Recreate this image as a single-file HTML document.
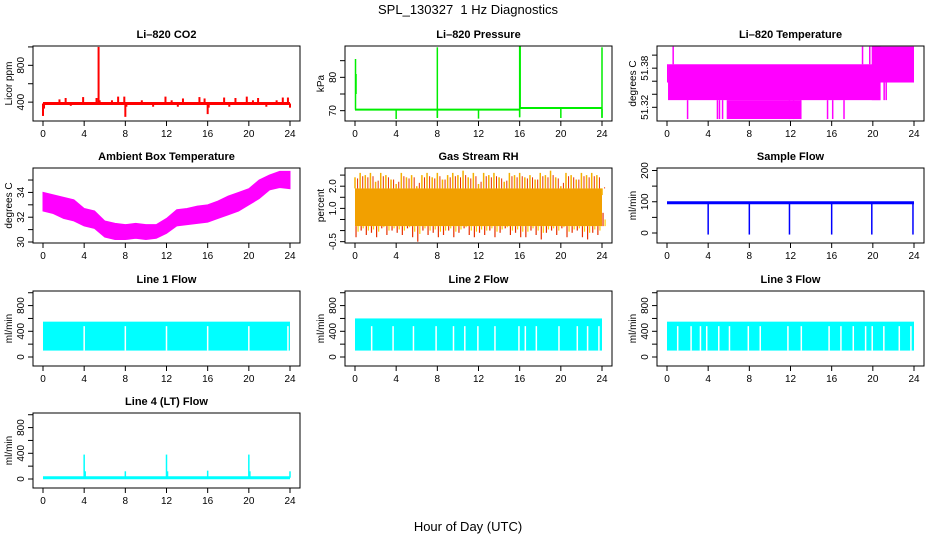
<!DOCTYPE html>
<html><head><meta charset="utf-8"><style>
html,body{margin:0;padding:0;background:#fff;}
svg{display:block;font-family:"Liberation Sans",Arial,sans-serif;}
</style></head><body>
<svg id="fig" width="936" height="540" viewBox="0 0 936 540">
<text x="468" y="14" text-anchor="middle" font-size="13" style="white-space:pre">SPL_130327&#160; 1 Hz Diagnostics</text>
<text x="468" y="531" text-anchor="middle" font-size="13">Hour of Day (UTC)</text>
</svg>
<script>
// ---- data ----
const xTicks = [0,4,8,12,16,20,24];
// CO2
const co2Base = 385;
const co2Spikes = [[0.0,250],[0.1,330],[1.6,430],[2.2,445],[2.7,360],[3.9,455],[5.2,445],[5.4,1000],[5.5,420],[6.7,420],[7.3,460],[7.9,460],[8.0,240],[8.1,350],[9.6,420],[10.7,350],[11.9,460],[12.5,420],[13.1,350],[13.6,440],[15.2,455],[15.7,440],[16.0,270],[16.1,340],[17.6,450],[18.1,350],[18.7,445],[19.8,460],[20.4,420],[20.9,445],[21.7,350],[22.7,420],[23.3,450],[23.8,450],[24.0,340]];
// Pressure
const presBase = [[0,16,70.3],[16,24,70.8]];
const presSpikes = [[0.05,70.3,85.5],[0.1,75,81],[8.0,68,89],[16.0,68,89.5],[16.05,70.8,89.5],[24.0,68,89]];
const presDips = [[4.0,67.5],[8.0,67.8],[12.0,67.6],[16.0,68.2],[20.0,67.8],[24.0,67.8]];
// Li-820 temperature
const tempBands = [[0.0,0.1,51.358,51.386],[0.1,20.75,51.331,51.386],[5.8,13.0,51.302,51.331],[19.9,24.0,51.358,51.413],[19.9,20.75,51.331,51.413]];
const tempSpikes = [[0.6,51.386,51.413],[2.0,51.302,51.331],[4.9,51.302,51.331],[5.1,51.302,51.331],[5.4,51.302,51.331],[11.9,51.302,51.331],[12.3,51.302,51.331],[13.0,51.302,51.331],[15.6,51.302,51.331],[16.1,51.302,51.331],[17.2,51.302,51.331],[19.0,51.386,51.413],[19.7,51.386,51.413],[21.1,51.331,51.358],[21.3,51.331,51.358]];
// Ambient box temperature (hourly envelope)
const ambHours = [0,1,2,3,4,5,6,7,8,9,10,11,12,13,14,15,16,17,18,19,20,21,22,23,24];
const ambUpper = [34.0,33.8,33.6,33.4,32.7,32.5,31.7,31.5,31.4,31.5,31.4,31.4,31.9,32.6,32.7,32.9,33.0,33.3,33.7,34.0,34.3,35.0,35.4,35.7,35.7];
const ambLower = [32.5,32.3,31.9,31.7,31.3,31.1,30.4,30.2,30.2,30.3,30.2,30.3,30.7,31.3,31.4,31.5,31.6,31.9,32.2,32.5,33.0,33.5,34.2,34.4,34.3];
// Gas stream RH (half-hourly envelope)
const rhTop = [2.4,2.6,2.5,2.6,2.2,2.6,2.5,2.3,2.1,2.6,2.4,2.5,2.0,2.5,2.6,2.4,2.6,2.3,2.5,2.6,2.5,2.7,2.4,2.6,2.1,2.6,2.5,2.6,2.4,2.2,2.6,2.5,2.6,2.4,2.5,2.3,2.6,2.5,2.7,2.4,2.0,2.6,2.5,2.3,2.6,2.5,2.6,2.5,1.6];
const rhBot = [-0.3,0.0,-0.2,-0.1,-0.3,0.1,-0.2,0.0,-0.1,-0.2,0.1,-0.3,-0.5,0.0,-0.2,-0.1,-0.3,-0.2,0.0,-0.3,-0.1,0.1,-0.2,-0.3,-0.1,-0.2,0.0,-0.3,-0.1,0.1,-0.2,-0.1,-0.3,-0.3,0.0,-0.2,-0.4,-0.1,0.0,-0.2,0.1,-0.3,-0.1,0.0,-0.3,-0.4,-0.1,-0.2,0.8];
const rhCoreLo = 0.2, rhCoreHi = 1.9;
// Sample flow
const sfBase = 97;
const sfDips = [[4.0,-5],[8.0,-5],[11.9,-5],[16.0,-5],[19.9,-5],[23.9,-5]];
// Line flows: band [lo,hi] and gap hours
const l1Band = [100,550], l1Gaps = [4.0,8.0,12.0,16.0,20.0,23.8];
const l2Band = [100,600], l2Gaps = [1.62,3.7,5.68,7.88,9.57,10.67,11.94,13.6,15.93,16.55,17.62,19.82,21.6,22.6,23.7];
const l3Band = [100,550], l3Gaps = [1.04,2.34,3.25,3.86,5.03,6.07,7.9,9.06,11.75,13.05,15.75,16.9,18.1,19.3,19.94,21.07,22.57,23.7];
const l4Base = 20;
const l4Spikes = [[4.0,380],[4.1,120],[8.0,120],[12.0,380],[12.1,120],[16.0,130],[20.0,380],[20.1,120],[24.0,120]];

// ---- drawing ----
const NS = "http://www.w3.org/2000/svg";
const fig = document.getElementById('fig');
function el(tag, attrs, parent){ const e=document.createElementNS(NS,tag); for(const k in attrs) e.setAttribute(k,attrs[k]); (parent||fig).appendChild(e); return e; }
const colL=[33,345,657], rowT=[46,168,291,413], W=267, H=75;

function panel(col,row,title,ylab,ylim,yt,ylabels,name){
  const L=colL[col], T=rowT[row];
  const g=el('g',{});
  
  
  const xs=h=>L+10+h/24*247;
  const ys=v=>T+H-(v-ylim[0])/(ylim[1]-ylim[0])*H;
  const t=el('text',{x:L+W/2,y:T-8,'text-anchor':'middle','font-size':11,'font-weight':'bold'},g);
  t.textContent=title;
  
  
  const plot=el('g',{},g);
  
  
  const frame=el('rect',{x:L,y:T,width:W,height:H,fill:'none',stroke:'#000','stroke-width':1},g);
  
  
  const ax=el('g',{stroke:'#000','stroke-width':1},g);
  
  
  el('line',{x1:xs(0),x2:xs(24),y1:T+H,y2:T+H},ax);
  xTicks.forEach(v=>{
    el('line',{x1:xs(v),x2:xs(v),y1:T+H,y2:T+H+5},ax);
    const tx=el('text',{x:xs(v),y:T+H+16,'text-anchor':'middle','font-size':10,stroke:'none'},g);
    tx.textContent=v;
    
    
  });
  el('line',{x1:L,x2:L,y1:ys(yt[0]),y2:ys(yt[yt.length-1])},ax);
  yt.forEach(v=>{ el('line',{x1:L-5,x2:L,y1:ys(v),y2:ys(v)},ax); });
  ylabels.forEach(s=>{
    const v=parseFloat(s);
    const ty=el('text',{x:0,y:0,'text-anchor':'middle','font-size':10,transform:`translate(${L-9},${ys(v)}) rotate(-90)`},g);
    ty.textContent=s;
    
    
  });
  const yl=el('text',{x:0,y:0,'text-anchor':'middle','font-size':10,transform:`translate(${L-21},${T+H/2}) rotate(-90)`},g);
  yl.textContent=ylab;
  
  
  return {xs,ys,plot};
}
function vline(p,h,a,b,c,w){ return el('line',{x1:p.xs(h),x2:p.xs(h),y1:p.ys(a),y2:p.ys(b),stroke:c,'stroke-width':w||1.5},p.plot); }
function hline(p,h0,h1,v,c,w){ return el('line',{x1:p.xs(h0),x2:p.xs(h1),y1:p.ys(v),y2:p.ys(v),stroke:c,'stroke-width':w||3},p.plot); }

// CO2
let p=panel(0,0,'Li\u2013820 CO2','Licor ppm',[195,1010],[400,600,800,1000],['400','800'],'co2');
hline(p,0,24,co2Base,'#ff0000',3);
co2Spikes.forEach(s=>vline(p,s[0],co2Base,s[1],'#ff0000',2));

// Pressure
p=panel(1,0,'Li\u2013820 Pressure','kPa',[66.9,89.4],[70,75,80,85],['70','80'],'pressure');
presBase.forEach(s=>hline(p,s[0],s[1],s[2],'#00ee00',2));
presSpikes.forEach(s=>vline(p,s[0],s[1],s[2],'#00ee00',1.5));
presDips.forEach(s=>vline(p,s[0],70.5,s[1],'#00ee00',1.5));

// Li-820 temperature
p=panel(2,0,'Li\u2013820 Temperature','degrees C',[51.299,51.414],[51.32,51.34,51.36,51.38,51.40],['51.32','51.38'],'li820-temp');
tempBands.forEach(b=>el('rect',{x:p.xs(b[0]),y:p.ys(b[3]),width:p.xs(b[1])-p.xs(b[0]),height:p.ys(b[2])-p.ys(b[3]),fill:'#ff00ff'},p.plot));
tempSpikes.forEach(s=>vline(p,s[0],s[1],s[2],'#ff00ff',1.5));

// Ambient
p=panel(0,1,'Ambient Box Temperature','degrees C',[29.92,35.97],[30,31,32,33,34,35],['30','32','34'],'ambient-temp');
{ let d='M'+ambHours.map((h,i)=>p.xs(h)+','+p.ys(ambUpper[i])).join(' L');
  for(let i=ambHours.length-1;i>=0;i--) d+=' L'+p.xs(ambHours[i])+','+p.ys(ambLower[i]);
  el('path',{d:d+'Z',fill:'#ff00ff',stroke:'#ff00ff','stroke-width':1},p.plot); }

// RH
p=panel(1,1,'Gas Stream RH','percent',[-0.56,2.82],[-0.5,0,0.5,1,1.5,2,2.5],['-0.5','1.0','2.0'],'rh');
el('rect',{x:p.xs(0),y:p.ys(rhCoreHi),width:p.xs(24)-p.xs(0),height:p.ys(rhCoreLo)-p.ys(rhCoreHi),fill:'#f2a000'},p.plot);
rhTop.forEach((v,i)=>{ vline(p,i*0.5,rhCoreHi,v,'#f5b000',1.5); vline(p,i*0.5+0.25,rhCoreHi,(v+rhCoreHi)/2+0.2,'#e83000',1); });
rhBot.forEach((v,i)=>{ vline(p,i*0.5+0.1,rhCoreLo,v,'#e83000',1.2); vline(p,i*0.5+0.3,rhCoreLo,(v+rhCoreLo)/2,'#ffd000',1.2); });

// Sample flow
p=panel(2,1,'Sample Flow','ml/min',[-32,208],[0,50,100,150,200],['0','100','200'],'sample-flow');
hline(p,0,24,sfBase,'#0000ff',3);
sfDips.forEach(s=>vline(p,s[0],sfBase,s[1],'#0000ff',1.5));

// Line flows
function flowPanel(col,row,title,band,gaps,name){
  const q=panel(col,row,title,'ml/min',[-140,1027],[0,200,400,600,800,1000],['0','400','800'],name);
  el('rect',{x:q.xs(0),y:q.ys(band[1]),width:q.xs(24)-q.xs(0),height:q.ys(band[0])-q.ys(band[1]),fill:'#00ffff'},q.plot);
  gaps.forEach(h=>vline(q,h,band[0],480,'#ffffff',1.5));
  return q;
}
flowPanel(0,2,'Line 1 Flow',l1Band,l1Gaps,'line1-flow');
flowPanel(1,2,'Line 2 Flow',l2Band,l2Gaps,'line2-flow');
flowPanel(2,2,'Line 3 Flow',l3Band,l3Gaps,'line3-flow');

// Line 4
p=panel(0,3,'Line 4 (LT) Flow','ml/min',[-140,1027],[0,200,400,600,800,1000],['0','400','800'],'line4-flow');
hline(p,0,24,l4Base,'#00ffff',3);
l4Spikes.forEach(s=>vline(p,s[0],l4Base,s[1],'#00ffff',1.5));
</script>
</body></html>
